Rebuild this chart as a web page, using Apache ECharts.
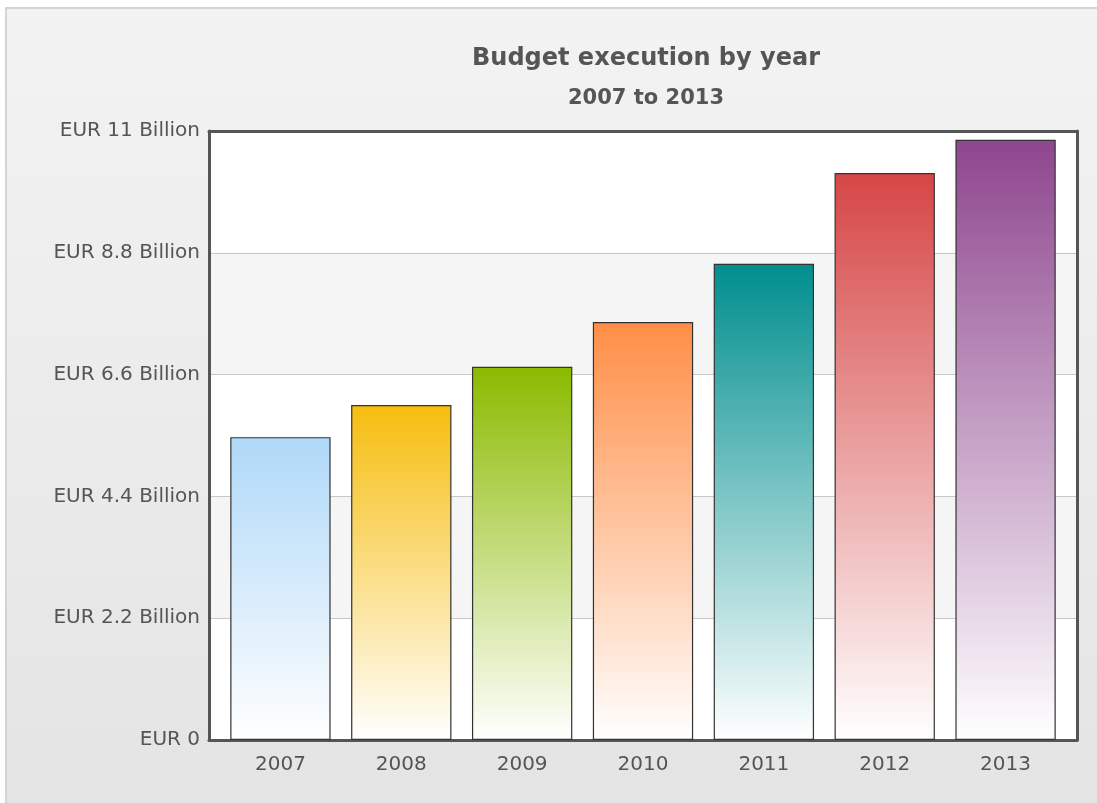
<!DOCTYPE html>
<html><head><meta charset="utf-8">
<script src="https://cdn.jsdelivr.net/npm/echarts@6/dist/echarts.min.js"></script>
<style>
html,body{margin:0;padding:0;background:#fff;width:1097px;height:803px;overflow:hidden}
#c{position:absolute;left:5px;top:7px;width:1092px;height:796px;background:linear-gradient(#f3f3f3,#e4e4e4);border-left:2px solid #d4d4d4;border-top:2px solid #d4d4d4;box-sizing:border-box}
</style></head>
<body><div id="c"></div>
<script>
const categories = ['2007','2008','2009','2010','2011','2012','2013'];
const values = [5.47, 6.05, 6.74, 7.55, 8.6, 10.24, 10.84];
const colors = ['#AFD8F8','#F6BD0F','#8BBA00','#FF8E46','#008E8E','#D64646','#8E468E'];
const yTicks = ['EUR 0','EUR 2.2 Billion','EUR 4.4 Billion','EUR 6.6 Billion','EUR 8.8 Billion','EUR 11 Billion'];

const chart = echarts.init(document.getElementById('c'));
const font = "'DejaVu Sans', Verdana, sans-serif";
const frameLine = {show: true, onZero: false, lineStyle: {color: '#555', width: 3}};
chart.setOption({
  backgroundColor: 'transparent',
  animation: false,
  title: [
    {text: 'Budget execution by year', left: 634, top: 33, textAlign: 'center',
      textStyle: {fontFamily: font, fontSize: 24, fontWeight: 'bold', color: '#555'}},
    {text: '2007 to 2013', left: 634, top: 74, textAlign: 'center',
      textStyle: {fontFamily: font, fontSize: 21, fontWeight: 'bold', color: '#555'}}
  ],
  grid: [
    {left: 202, right: 20, top: 122, bottom: 63},
    {left: 213, right: 31, top: 122, bottom: 63}
  ],
  xAxis: [
    {type: 'category', gridIndex: 0, position: 'bottom', data: categories, axisLine: frameLine, axisTick: {show: false}, axisLabel: {show: false}},
    {type: 'category', gridIndex: 0, position: 'top', data: categories, axisLine: frameLine, axisTick: {show: false}, axisLabel: {show: false}},
    {type: 'category', gridIndex: 1, data: categories, axisLine: {show: false}, axisTick: {show: false},
      axisLabel: {fontFamily: font, fontSize: 20, color: '#555', margin: 15}}
  ],
  yAxis: [
    {type: 'value', gridIndex: 0, position: 'left', min: 0, max: 11, interval: 2.2,
      axisLine: frameLine, axisTick: {show: false},
      axisLabel: {fontFamily: font, fontSize: 20, color: '#555', margin: 9,
        formatter: (v) => yTicks[Math.round(v / 2.2)]},
      splitLine: {lineStyle: {color: '#c8c8c8', width: 1}},
      splitArea: {show: true, areaStyle: {color: ['#ffffff', '#f5f5f5']}}},
    {type: 'value', gridIndex: 0, position: 'right', min: 0, max: 11, interval: 2.2,
      axisLine: frameLine, axisTick: {show: false}, axisLabel: {show: false}, splitLine: {show: false}},
    {type: 'value', gridIndex: 1, min: 0, max: 11, interval: 2.2,
      axisLine: {show: false}, axisTick: {show: false}, axisLabel: {show: false}, splitLine: {show: false}}
  ],
  series: [{
    type: 'bar', xAxisIndex: 2, yAxisIndex: 2, barCategoryGap: '17%', z: 3,
    data: values.map((v, i) => ({
      value: v,
      itemStyle: {
        color: new echarts.graphic.LinearGradient(0, 0, 0, 1, [
          {offset: 0, color: colors[i]},
          {offset: 1, color: '#ffffff'}
        ]),
        borderColor: '#333', borderWidth: 1.2
      }
    }))
  }]
});
</script></body></html>
